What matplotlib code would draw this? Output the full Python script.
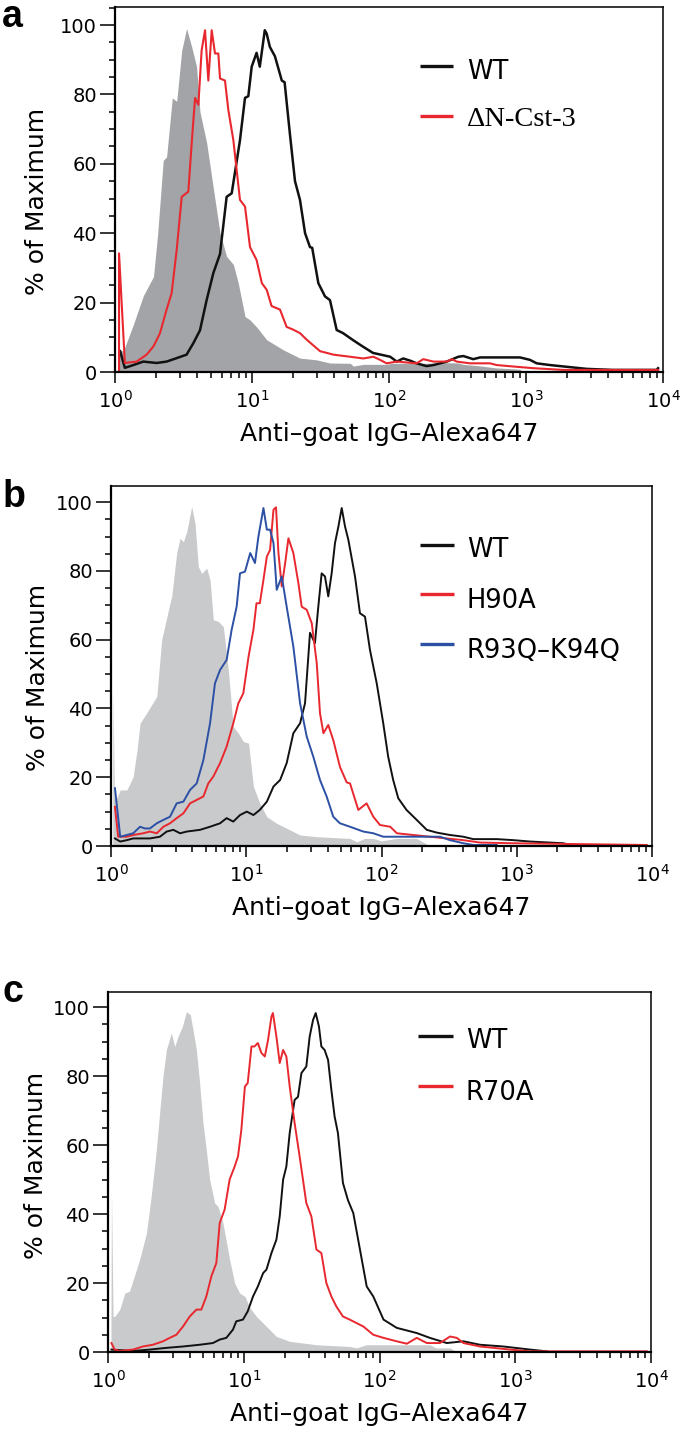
import matplotlib
matplotlib.use("Agg")
import matplotlib.pyplot as plt
from matplotlib.ticker import LogLocator, MultipleLocator, NullFormatter

# ---- panel a ----
a_gray_x = [1.04, 1.06, 1.15, 1.36, 1.61, 1.91, 2.05, 2.25, 2.38, 2.62, 2.82, 3.07, 3.33,
            3.63, 3.94, 4.17, 4.67, 5.22, 5.84, 6.53, 7.31, 7.94, 8.89, 9.67, 10.8, 12.8,
            16.9, 22.4, 29.6, 37, 52, 55, 65, 95, 105, 190, 250, 320, 347, 450, 600, 900, 950]
a_gray_y = [0, 6.4, 6.0, 13.6, 22, 27.5, 40, 61, 62, 79, 78, 92.7, 99,
            93.7, 88, 75, 66, 53, 40, 33.3, 31, 25.6, 16, 15, 13, 9.3,
            6.4, 4, 3.5, 2.6, 2.5, 1.7, 2.2, 2.2, 2.5, 2.5, 2.7, 2.6, 2.2, 1.8, 1.2, 0.8, 0]

a_wt_x = [1.09, 1.18, 1.36, 1.61, 2.01, 2.38, 2.82, 3.33, 3.73, 4.17, 4.67, 5.22, 5.84,
          6.53, 7.11, 8.17, 8.89, 9.4, 9.95, 10.8, 11.4, 12.4, 12.8, 13.5, 14.7, 16.5,
          17.3, 18.9, 20.6, 22.4, 24.4, 26.5, 27.5, 30.5, 34.1, 37.1, 41.5, 46.2, 54.6,
          64.6, 76.4, 102, 114, 127, 142, 159, 188, 211, 264, 321, 349, 412, 462, 904,
          1069, 1197, 1497, 1983, 2773, 4315, 9000, 9200]
a_wt_y = [6, 1.2, 2, 3, 2.6, 3, 4, 5, 8.3, 12, 20.8, 28.5, 34,
          50.5, 51.5, 66.8, 79, 79.5, 88, 92, 88, 98.5, 97.5, 93.7, 91, 84,
          83.5, 68.7, 55, 49.6, 40, 36, 35.8, 25.6, 21.8, 20.7, 12.1, 11.2, 9.2,
          7.3, 5.5, 4.4, 3, 3.9, 3.3, 2.5, 1.7, 2, 3, 4.4, 4.6, 3.7, 4.2, 4.2,
          3.5, 2.5, 2, 1.5, 0.9, 0.6, 0.6, 1.1]

a_dn_x = [1.07, 1.07, 1.18, 1.44, 1.70, 1.91, 2.13, 2.38, 2.59, 2.82, 3.07, 3.43, 3.63,
          3.84, 4.06, 4.29, 4.54, 4.80, 5.08, 5.37, 5.68, 5.84, 6.35, 6.72, 7.31, 8.17,
          8.89, 9.67, 10.8, 11.8, 12.8, 13.9, 16.0, 17.9, 20.0, 22.4, 25.1, 31.4, 39.3,
          51.9, 64.9, 76.9, 86, 96, 114, 159, 178, 211, 264, 287, 312, 390, 546, 611,
          855, 1130, 1871, 9240]
a_dn_y = [0, 34.2, 2.6, 3, 5, 7.4, 11.2, 18, 22.7, 35.2, 50.5, 52, 66,
          79, 77, 92.7, 98.5, 84, 98.5, 91.8, 91.8, 84.6, 84, 75.5, 66.8, 49.6,
          47.7, 36, 32.3, 25.6, 23.7, 19, 18, 13, 12.2, 11.2, 9.3, 6, 5,
          4.4, 3.9, 4.4, 3.5, 2.5, 3, 2.5, 3.7, 3, 3, 3.7, 3, 2.5, 2.5, 2,
          1.5, 1.1, 0.6, 0.6]

# ---- panel b ----
b_gray_x = [1.03, 1.035, 1.06, 1.1, 1.17, 1.31, 1.46, 1.56, 1.64, 1.83, 2.18, 2.37, 2.73,
            2.81, 3.06, 3.24, 3.43, 3.63, 3.95, 4.18, 4.42, 4.68, 5.10, 5.40, 5.71, 6.22,
            6.77, 7.37, 8.02, 8.74, 9.51, 10.4, 11.3, 12.6, 14.2, 16.8, 21, 25, 33.2,
            58.5, 65.6, 75, 87, 100, 130, 182, 228]
b_gray_y = [0, 45, 14, 13.9, 16.3, 16.3, 20.2, 28, 35.7, 38.6, 43.5, 60, 70.6,
            72.6, 85.2, 89.5, 88.5, 91.4, 98.7, 93.8, 81.3, 79.3, 80.8, 77.4, 65.8, 65.3,
            63.8, 51.2, 34.7, 32.8, 30.4, 29.9, 17.3, 12.4, 8.5, 6.6, 4.7, 3.2, 2.7,
            2.2, 1.2, 2.2, 2.2, 1.5, 2.2, 2.2, 0]

b_wt_x = [1.07, 1.17, 1.31, 1.46, 1.94, 2.30, 2.58, 2.89, 3.24, 3.63, 4.55, 5.40, 6.40,
          7.16, 8.02, 8.99, 10.1, 11.3, 12.6, 14.2, 15.9, 17.8, 19.9, 22.3, 25.0, 27.2,
          29.6, 32.2, 34.1, 36.1, 38.2, 40.4, 42.8, 45.3, 48.0, 50.8, 53.7, 56.9, 63.7,
          69.3, 75.5, 82.2, 92.2, 103, 112, 122, 133, 153, 182, 216, 256, 321, 403, 477,
          711, 944, 1253, 2208, 2477]
b_wt_y = [2.2, 1.3, 1.7, 2.2, 2.2, 2.7, 4.2, 4.7, 3.7, 4.2, 4.7, 5.6, 6.6,
          8.1, 7.1, 9, 10, 9, 10.5, 12.9, 17.3, 19.2, 24.1, 32.8, 35.7, 41.5,
          62, 59, 69.6, 79.3, 78.4, 72.6, 79.3, 88.1, 92.9, 98.3, 93, 89, 78.4,
          67.7, 66.7, 57, 47.3, 35.7, 26, 19.2, 13.9, 10.5, 7.6, 4.7, 3.9, 3.2, 2.7, 2,
          2, 1.7, 1.3, 0.8, 0.3]

b_h90a_x = [1.07, 1.13, 1.31, 1.46, 1.73, 1.94, 2.18, 2.44, 2.73, 3.06, 3.43, 3.84, 4.30,
            4.82, 5.24, 5.71, 6.40, 7.16, 8.02, 8.74, 9.51, 10.4, 11.3, 11.9, 12.6, 13.4,
            14.2, 15.0, 15.9, 16.6, 17.3, 18.3, 19.4, 20.5, 22.3, 24.3, 25.7, 28.0, 30.5,
            33.2, 35.1, 37.2, 40.4, 44.0, 49.3, 55.3, 58.5, 67.4, 77.6, 87, 97.5, 116,
            130, 172, 228, 403, 535, 944, 9140]
b_h90a_y = [11.4, 2.7, 2.7, 3.2, 3.7, 4.2, 3.7, 5.6, 6.6, 8.1, 9.5, 12.4, 13.4,
            14.4, 18.2, 20.2, 24.1, 28.9, 35.7, 41.5, 44.4, 55.1, 62.9, 70.6, 70.6, 77.4,
            84.2, 86.1, 97.8, 98.5, 85.2, 75.5, 82.3, 89.5, 85.2, 76.4, 69.6, 68.7, 64.8,
            53.2, 38.6, 32.8, 35.2, 30.8, 23, 18.5, 18.2, 10.5, 12.4, 8.5, 6.1, 5.6,
            3.7, 3.2, 2.7, 1.7, 1.0, 0.8, 0.3]

b_rk_x = [1.07, 1.17, 1.31, 1.46, 1.64, 1.78, 1.94, 2.18, 2.44, 2.73, 3.06, 3.43, 3.84,
          4.30, 4.82, 5.40, 5.87, 6.40, 7.16, 7.80, 8.49, 8.99, 9.79, 10.7, 11.6, 12.3,
          13.4, 14.2, 15.0, 15.9, 16.8, 18.3, 19.9, 22.3, 25.0, 28.0, 31.3, 35.1, 39.3,
          44.0, 49.3, 58.5, 73.4, 87, 103, 130, 162, 216, 271, 321, 403, 477, 711]
b_rk_y = [16.8, 2.7, 3.2, 3.7, 5.6, 5.1, 5.1, 6.6, 7.6, 8.5, 12.4, 12.9, 16.3,
          18.2, 25, 35.7, 47.3, 51.2, 54.1, 62.9, 69.6, 79.3, 79.8, 85.2, 82.3, 90,
          98.3, 92, 92, 88.1, 74.5, 78.4, 69.6, 58, 41.5, 31.8, 26, 19.2, 14.4,
          8.5, 6.6, 5.6, 4.2, 3.7, 2.7, 2.7, 2.7, 2.7, 2.7, 1.7, 0.8, 0.3, 0.3]

# ---- panel c ----
c_gray_x = [1.05, 1.06, 1.09, 1.12, 1.22, 1.33, 1.44, 1.62, 1.71, 1.92, 2.08, 2.27, 2.40,
            2.54, 2.69, 2.93, 3.10, 3.28, 3.53, 3.78, 4.04, 4.23, 4.48, 4.73, 5.01, 5.30,
            5.61, 6.11, 6.46, 7.03, 7.87, 8.57, 9.33, 10.2, 11.1, 12.4, 14.7, 17.4, 21.8,
            34.3, 60.3, 67.9, 80, 235, 260, 331, 371]
c_gray_y = [0, 47, 10.3, 10.3, 12.3, 17.1, 17.6, 23.9, 26.8, 34.5, 45.1, 58.6, 69.3,
            79.9, 87.6, 92.5, 88.6, 91.5, 94.4, 98.7, 97.8, 93.4, 87.6, 78, 66.4, 58.6,
            50, 43.2, 42.2, 37.4, 26.8, 20, 17.1, 16.1, 12.8, 10.3, 7.4, 4.5, 3.1,
            2.1, 1.6, 1.2, 2.1, 2.1, 1.2, 1.2, 0]

c_wt_x = [1.06, 1.53, 2.03, 2.69, 3.57, 4.73, 5.93, 6.65, 7.44, 8.33, 8.81, 9.87, 10.7,
          11.7, 12.7, 13.9, 14.7, 16.0, 17.4, 18.4, 19.5, 20.6, 21.8, 23.7, 25.1, 26.6,
          28.9, 30.6, 32.4, 33.9, 35.8, 37.3, 39.4, 41.8, 44.2, 46.7, 49.4, 53.8, 58.6,
          64.1, 71.8, 80.5, 90, 107, 134, 188, 235, 313, 415, 550, 817, 1285, 1706]
c_wt_y = [0.7, 0.3, 0.7, 1.2, 1.6, 2.1, 2.6, 3.6, 4.1, 6.5, 8.9, 9.4, 11.8,
          16.1, 19, 22.9, 23.9, 28.7, 32.6, 39.3, 50, 53.8, 63.5, 73.1, 74, 80.9,
          82.8, 91.5, 96.3, 98.3, 94.4, 88.6, 87.6, 84.7, 76, 68.3, 63.5, 49, 44,
          40.3, 29.7, 19, 16.1, 9.4, 7, 5.5, 4.1, 2.6, 3.1, 2.1, 1.6, 0.7, 0.2]

c_r70a_x = [1.06, 1.12, 1.22, 1.53, 1.81, 2.14, 2.54, 2.85, 3.19, 3.57, 4.00, 4.48, 4.87,
            5.30, 5.77, 6.28, 6.65, 7.23, 7.87, 8.57, 9.07, 9.60, 10.2, 10.7, 11.4, 12.0,
            12.7, 13.5, 14.3, 15.1, 16.0, 16.4, 17.4, 18.4, 19.5, 20.6, 21.8, 23.7, 25.8,
            27.3, 28.9, 31.5, 34.3, 37.3, 40.6, 44.2, 48.1, 53.8, 60.3, 76, 90, 107, 134,
            159, 188, 223, 279, 331, 371, 415, 550, 915, 1285, 9300]
c_r70a_y = [2.6, 0.7, 0.3, 0.7, 1.6, 2.1, 3.1, 4.1, 5, 7.4, 10.3, 12.3, 12.3,
            16.1, 21.9, 25.8, 37.4, 41.3, 50, 53.8, 56.7, 64.4, 77, 78, 88.6, 88.6,
            89.6, 86.7, 85.7, 90.5, 97.3, 98.3, 91.5, 83.8, 87.6, 85.7, 77, 66.4, 56.7,
            50, 43.2, 39.3, 29.7, 28.7, 20, 16.1, 13.2, 10.3, 9.4, 7.4, 5, 4.1, 3.1,
            2.4, 4.1, 2.6, 2.6, 4.5, 4.1, 2.6, 1.6, 0.7, 0.2, 0.2]

RED = "#e8282e"
BLUE = "#2c50a4"
BLACK = "#111111"
GRAY_DARK = "#a3a4a7"
GRAY_LIGHT = "#c9cacc"

XLABEL = "Anti\u2013goat IgG\u2013Alexa647"
YLABEL = "% of Maximum"

fig = plt.figure(figsize=(6.85, 14.29), dpi=100)


def style_axes(ax, ytop, ylab_xy):
    ax.set_xscale("log")
    ax.set_xlim(1, 1e4)
    ax.set_ylim(0, ytop)
    ax.yaxis.set_major_locator(MultipleLocator(20))
    ax.yaxis.set_minor_locator(MultipleLocator(5))
    ax.xaxis.set_major_locator(LogLocator(base=10, numticks=10))
    ax.xaxis.set_minor_locator(LogLocator(base=10, subs=range(2, 10), numticks=40))
    ax.xaxis.set_minor_formatter(NullFormatter())
    ax.tick_params(which="both", direction="out", width=1.1, color="black")
    ax.tick_params(axis="y", which="major", length=11, pad=2, labelsize=14)
    ax.tick_params(axis="y", which="minor", length=4.5)
    ax.tick_params(axis="x", which="major", length=8, pad=5, labelsize=14)
    ax.tick_params(axis="x", which="minor", length=4.5)
    for side in ["left", "bottom"]:
        ax.spines[side].set_linewidth(1.6)
    for side in ["top", "right"]:
        ax.spines[side].set_linewidth(1.1)
    ax.set_xlabel(XLABEL, fontsize=18)
    ax.xaxis.set_label_coords(0.5, -0.138)
    ax.set_ylabel(YLABEL, fontsize=18, va="center")
    ax.yaxis.set_label_coords(*ylab_xy)


def add_key(ax, entries, x0, x1, xt):
    # hand-placed key, like the original
    for label, color, y_line, y_text, family, size in entries:
        ax.plot([x0, x1], [y_line, y_line], transform=ax.transAxes, color=color,
                lw=2.4, solid_capstyle="butt")
        ax.text(xt, y_text, label, transform=ax.transAxes, fontsize=size,
                va="baseline", ha="left", family=family)


# panel a
ax_a = fig.add_axes([115 / 685, 1 - 372 / 1429, 548 / 685, 365 / 1429])
ax_a.fill_between(a_gray_x, 0, a_gray_y, color=GRAY_DARK, lw=0)
ax_a.plot(a_wt_x, a_wt_y, color=BLACK, lw=1.8)
ax_a.plot(a_dn_x, a_dn_y, color=RED, lw=1.5)
style_axes(ax_a, 105.2, (-0.142, 0.466))
add_key(ax_a, [("WT", BLACK, 0.838, 0.803, "DejaVu Sans", 18.5),
               ("\u0394N-Cst-3", RED, 0.701, 0.674, "Liberation Serif", 20.5)],
        0.557, 0.617, 0.642)

# panel b
ax_b = fig.add_axes([111 / 685, 1 - 846 / 1429, 541 / 685, 360 / 1429])
ax_b.fill_between(b_gray_x, 0, b_gray_y, color=GRAY_LIGHT, lw=0)
ax_b.plot(b_wt_x, b_wt_y, color=BLACK, lw=1.4)
ax_b.plot(b_h90a_x, b_h90a_y, color=RED, lw=1.4)
ax_b.plot(b_rk_x, b_rk_y, color=BLUE, lw=1.4)
style_axes(ax_b, 104.7, (-0.135, 0.469))
add_key(ax_b, [("WT", BLACK, 0.836, 0.803, "DejaVu Sans", 18.5),
               ("H90A", RED, 0.700, 0.661, "DejaVu Sans", 18.5),
               ("R93Q\u2013K94Q", BLUE, 0.561, 0.522, "DejaVu Sans", 18.5)],
        0.571, 0.634, 0.658)

# panel c
ax_c = fig.add_axes([108 / 685, 1 - 1352 / 1429, 543 / 685, 360 / 1429])
ax_c.fill_between(c_gray_x, 0, c_gray_y, color=GRAY_LIGHT, lw=0)
ax_c.plot(c_wt_x, c_wt_y, color=BLACK, lw=1.4)
ax_c.plot(c_r70a_x, c_r70a_y, color=RED, lw=1.4)
style_axes(ax_c, 104.4, (-0.133, 0.519))
add_key(ax_c, [("WT", BLACK, 0.878, 0.844, "DejaVu Sans", 18.5),
               ("R70A", RED, 0.739, 0.700, "DejaVu Sans", 18.5)],
        0.571, 0.635, 0.659)

# panel letters
for letter, ybase in [("a", 1 - 27 / 1429), ("b", 1 - 507 / 1429), ("c", 1 - 1002 / 1429)]:
    fig.text(0.003, ybase, letter, fontsize=27, fontweight="bold",
             family="Liberation Sans", va="baseline", ha="left")

fig.savefig("out.png", dpi=100)
